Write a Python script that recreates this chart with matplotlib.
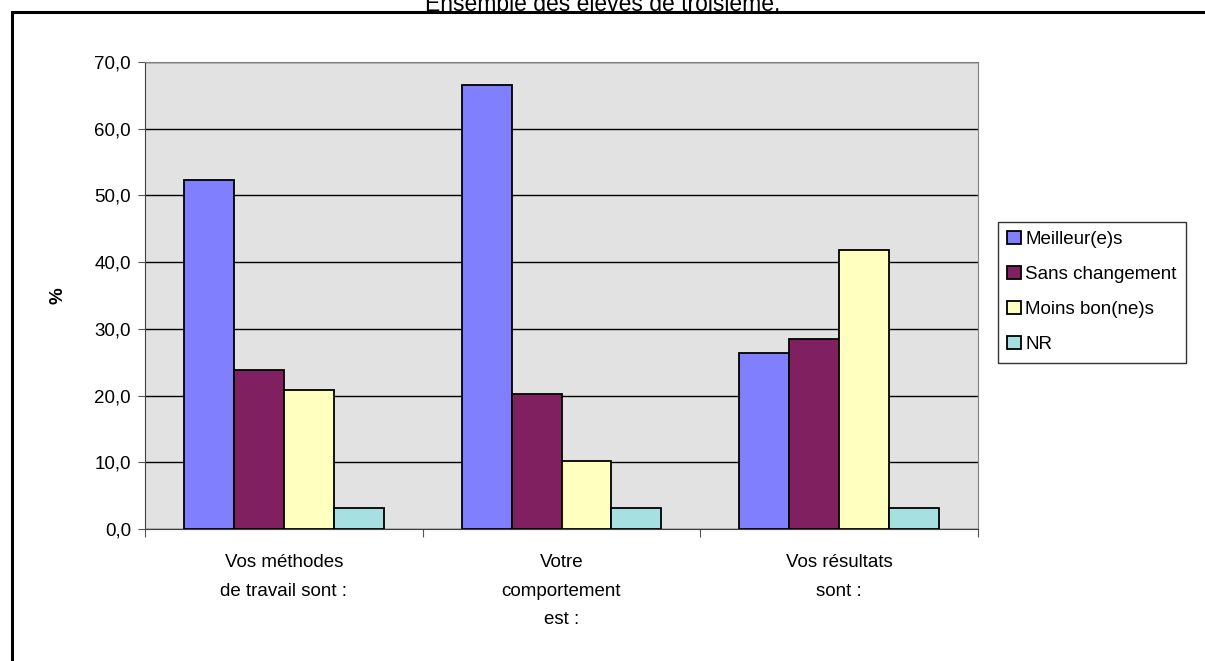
import matplotlib
matplotlib.use('Agg')
import matplotlib.pyplot as plt
import numpy as np
from matplotlib.patches import Rectangle

plt.rcParams['font.family'] = ['Liberation Sans', 'DejaVu Sans']

# data
categories = ['Vos méthodes\nde travail sont :', 'Votre\ncomportement\nest :', 'Vos résultats\nsont :']
series = ['Meilleur(e)s', 'Sans changement', 'Moins bon(ne)s', 'NR']
meilleur = [52.3, 66.6, 26.4]
sans_chgt = [23.8, 20.2, 28.5]
moins_bon = [20.8, 10.2, 41.8]
nr = [3.1, 3.1, 3.1]
yticks = [0, 10, 20, 30, 40, 50, 60, 70]

values = [meilleur, sans_chgt, moins_bon, nr]
colors = ['#8080FF', '#802060', '#FFFFC0', '#A6E0E0']

W, H = 1205, 661
FS = 13.5
fig = plt.figure(figsize=(W / 100, H / 100), dpi=100)

# outer chart frame
fig.patches.append(Rectangle((12 / W, -0.05), 1.2, (H - 12) / H + 0.05,
                             transform=fig.transFigure, fill=False,
                             edgecolor='black', linewidth=2.2))
# title sits half outside the image, as in the original
fig.text(0.5, 1 + 7 / H, 'Ensemble des élèves de troisième.', ha='center', va='top',
         fontsize=16.5)

ax = fig.add_axes([145 / W, 1 - 529 / H, (978 - 145) / W, (529 - 62) / H])
ax.set_facecolor('#E2E2E2')

x = np.arange(len(categories))
bw = 0.18
for i, (vals, col, name) in enumerate(zip(values, colors, series)):
    ax.bar(x + (i - 1.5) * bw, vals, bw, color=col, edgecolor='black',
           linewidth=1.3, label=name, zorder=3)

ax.set_xlim(-0.5, 2.5)
ax.set_ylim(0, 70)
ax.set_yticks(yticks)
ax.set_yticklabels([f'{v:.1f}'.replace('.', ',') for v in yticks], fontsize=FS)
ax.yaxis.grid(True, color='black', linewidth=1.0, zorder=1)
ax.set_axisbelow(True)

ax.set_xticks([-0.5, 0.5, 1.5, 2.5])
ax.set_xticklabels([])
ax.set_xticks(x, minor=True)
ax.set_xticklabels(categories, minor=True, fontsize=FS, linespacing=1.9)
ax.tick_params(axis='x', which='minor', length=0, pad=18)
ax.tick_params(axis='x', which='major', length=6, color='#555555')
ax.tick_params(axis='y', length=5, color='#555555', pad=5)

for s in ['top', 'right']:
    ax.spines[s].set_color('#808080')
ax.spines['left'].set_color('#404040')
ax.spines['bottom'].set_color('#404040')

ax.set_ylabel('%', fontsize=FS, fontweight='bold', labelpad=20)

leg = fig.legend(loc='upper left', bbox_to_anchor=(998 / W, 1 - 222 / H),
                 fontsize=FS, frameon=True, fancybox=False, edgecolor='black',
                 handlelength=0.7, handleheight=0.7, handletextpad=0.25,
                 labelspacing=0.95, borderpad=0.5, borderaxespad=0)
leg.get_frame().set_linewidth(1.0)

fig.savefig('out.png', dpi=100)
